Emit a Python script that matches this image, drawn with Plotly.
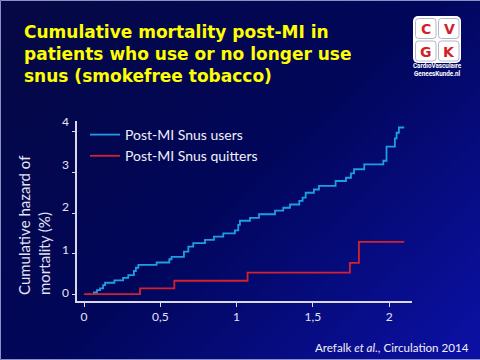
import base64
import plotly.graph_objects as go

# ---- data ----
users_x = [0.061, 0.065, 0.085, 0.105, 0.125, 0.138, 0.199, 0.256, 0.290, 0.327, 0.340, 0.356,
           0.476, 0.559, 0.574, 0.655, 0.684, 0.716, 0.793, 0.852, 0.913, 0.989, 1.011, 1.022,
           1.088, 1.147, 1.252, 1.306, 1.350, 1.411, 1.433, 1.453, 1.507, 1.540, 1.649, 1.717,
           1.750, 1.770, 1.837, 1.962, 1.983, 2.038, 2.049, 2.064, 2.099]
users_y = [0.00, 0.04, 0.10, 0.14, 0.22, 0.28, 0.34, 0.40, 0.47, 0.57, 0.65, 0.72,
           0.78, 0.86, 0.92, 1.05, 1.17, 1.26, 1.34, 1.42, 1.50, 1.57, 1.71, 1.81,
           1.88, 1.97, 2.06, 2.13, 2.21, 2.30, 2.38, 2.50, 2.58, 2.67, 2.79, 2.87,
           2.98, 3.08, 3.20, 3.29, 3.64, 3.84, 3.98, 4.11, 4.11]
quit_x = [0.0, 0.367, 0.592, 1.072, 1.743, 1.802, 2.099]
quit_y = [0.0, 0.14, 0.33, 0.53, 0.77, 1.29, 1.29]

x_ticks = [0, 0.5, 1, 1.5, 2]
x_tick_labels = ["0", "0,5", "1", "1,5", "2"]
y_ticks = [0, 1, 2, 3, 4]
y_tick_labels = ["0", "1", "2", "3", "4"]

series_names = ["Post-MI Snus users", "Post-MI Snus quitters"]
title_lines = ["Cumulative mortality post-MI in", "patients who use or no longer use",
               "snus (smokefree tobacco)"]
y_title_lines = ["Cumulative hazard of", "mortality (%)"]
citation = "Arefalk <i>et al.</i>, Circulation 2014"
logo_letters = ["C", "V", "G", "K"]
logo_text = ["CardioVasculaire", "GeneesKunde.nl"]

# ---- layout geometry ----
W, H = 480, 360
L, R, T, B = 77, 412, 121, 301
PW, PH = R - L, B - T


def px(x):
    return (x - L) / PW


def py(y):
    return (B - y) / PH


BLUE = "#1e9ee0"
RED = "#d4222c"
FONT = "Lato"

# background gradient + frame + logo tiles as an inline svg
svg = f'''<svg xmlns="http://www.w3.org/2000/svg" width="{W}" height="{H}">
<defs><linearGradient id="g" x1="0" y1="0.1" x2="1" y2="0.9">
<stop offset="0" stop-color="#050844"/><stop offset="0.5" stop-color="#01065a"/>
<stop offset="1" stop-color="#0b10a0"/></linearGradient></defs>
<rect width="{W}" height="{H}" fill="url(#g)"/>
<path d="M0.5 0.5 H{W} M0.5 0.5 V{H-0.5} H{W}" fill="none" stroke="#8a90c4" stroke-width="1"/>
<rect x="413" y="16" width="48" height="47" rx="5" fill="#ffffff"/>
<rect x="415.5" y="18.5" width="20.5" height="20" rx="3" fill="none" stroke="#b4b4c4"/>
<rect x="438.5" y="18.5" width="20.5" height="20" rx="3" fill="none" stroke="#b4b4c4"/>
<rect x="415.5" y="41" width="20.5" height="20" rx="3" fill="none" stroke="#b4b4c4"/>
<rect x="438.5" y="41" width="20.5" height="20" rx="3" fill="none" stroke="#b4b4c4"/>
</svg>'''
svg_uri = "data:image/svg+xml;base64," + base64.b64encode(svg.encode()).decode()

fig = go.Figure()
fig.add_trace(go.Scatter(x=users_x, y=users_y, mode="lines", line_shape="hv",
                         line=dict(color=BLUE, width=1.8), name=series_names[0]))
fig.add_trace(go.Scatter(x=quit_x, y=quit_y, mode="lines", line_shape="hv",
                         line=dict(color=RED, width=1.8), name=series_names[1]))
# invisible helper trace so the label-only axis (slightly stretched, as in the scan) is drawn
fig.add_trace(go.Scatter(x=[x_ticks[0]], y=[y_ticks[0]], yaxis="y2", mode="markers",
                         marker=dict(opacity=0), showlegend=False, hoverinfo="skip"))

annotations = []
# title
annotations.append(dict(x=px(22), y=py(20), xref="paper", yref="paper", xanchor="left",
                        yanchor="top", align="left", showarrow=False,
                        text="<br>".join(f"<b>{t}</b>" for t in title_lines),
                        font=dict(family="DejaVu Sans", size=17, color="#ffff00"),
                        ))
# y axis title
annotations.append(dict(x=px(34), y=py(297), xref="paper", yref="paper", xanchor="center",
                        yanchor="bottom", align="left", showarrow=False, textangle=-90,
                        text="<br>".join(y_title_lines),
                        font=dict(family=FONT, size=15, color="#e4e4f2")))
# citation
annotations.append(dict(x=px(471), y=py(347), xref="paper", yref="paper", xanchor="right",
                        yanchor="middle", showarrow=False, text=citation,
                        font=dict(family=FONT, size=11.6, color="#f0f0f8")))
# logo letters
for letter, (lx, ly) in zip(logo_letters, [(426, 29), (449, 29), (426, 51.5), (449, 51.5)]):
    annotations.append(dict(x=px(lx), y=py(ly), xref="paper", yref="paper", xanchor="center",
                            yanchor="middle", showarrow=False, text=f"<b>{letter}</b>",
                            font=dict(family="DejaVu Sans", size=14, color="#d2202a")))
annotations.append(dict(x=px(437), y=py(70), xref="paper", yref="paper", xanchor="center",
                        yanchor="middle", showarrow=False,
                        text=f"<b>{logo_text[0]}</b><br><b>{logo_text[1]}</b>",
                        font=dict(family="Roboto", size=6.3, color="#ffffff")))

fig.update_layout(
    width=W, height=H,
    margin=dict(l=L, r=W - R, t=T, b=H - B, pad=0),
    paper_bgcolor="#01065c", plot_bgcolor="rgba(0,0,0,0)",
    separators=", ",
    images=[dict(source=svg_uri, xref="paper", yref="paper", x=px(0), y=py(0),
                 sizex=W / PW, sizey=H / PH, xanchor="left", yanchor="top",
                 sizing="stretch", layer="below")],
    annotations=annotations,
    showlegend=True,
    legend=dict(x=px(85), y=py(119), xanchor="left", yanchor="top", bgcolor="rgba(0,0,0,0)",
                font=dict(family=FONT, size=14, color="#f0f0f8"), itemwidth=30,
                tracegroupgap=0),
    xaxis=dict(range=[-0.046, 2.15], showgrid=False, zeroline=False, showline=True,
               linecolor="#d8d8e8", linewidth=1.5, ticks="outside", ticklen=4,
               tickcolor="#d8d8e8", tickvals=x_ticks, ticktext=x_tick_labels,
               tickfont=dict(family=FONT, size=12, color="#e4e4f2")),
    yaxis=dict(range=[-0.17, 4.27], showgrid=False, zeroline=False, showline=True,
               linecolor="#d8d8e8", linewidth=1.5, ticks="outside", ticklen=3,
               tickcolor="#d8d8e8", tickvals=y_ticks, showticklabels=False),
    yaxis2=dict(overlaying="y", side="left", range=[-0.194, 4.016], showgrid=False,
                zeroline=False, showline=False, ticks="", tickvals=y_ticks,
                ticktext=y_tick_labels, ticklabelstandoff=7,
                tickfont=dict(family=FONT, size=12, color="#e4e4f2")),
)

fig.write_html("out.html", config={"displayModeBar": False},
               post_script="document.body.style.margin='0';")
